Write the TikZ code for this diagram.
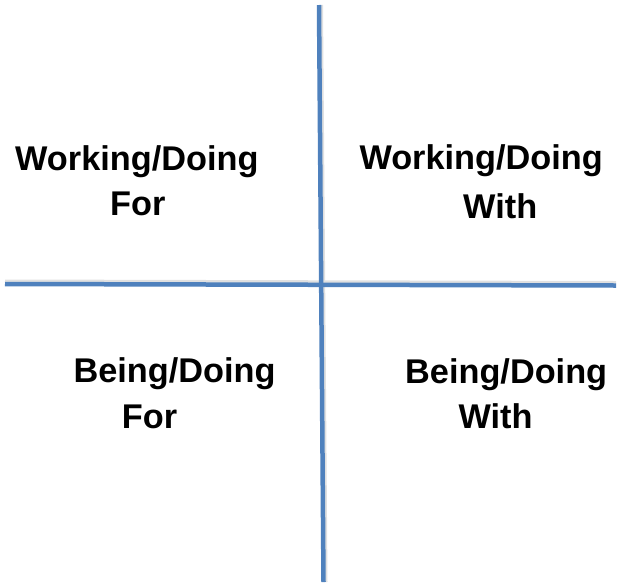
\documentclass[tikz,border=0pt]{standalone}
\usepackage{fontspec}
\setmainfont{Liberation Sans}
\definecolor{axisblue}{HTML}{4F81BD}
\begin{document}
\begin{tikzpicture}[x=1pt,y=-1pt,
  lbl/.style={anchor=base west,inner sep=0pt,font=\bfseries\fontsize{34.3}{40}\selectfont},
  axis/.style={draw=axisblue,line width=4.5pt}]
\useasboundingbox (0,0) rectangle (621,587);
% axes
\coordinate (vt) at (319,5);
\coordinate (vb) at (323.5,582);
\coordinate (hl) at (5,284);
\coordinate (hr) at (616,285.5);
\draw[draw=black!12,line width=3pt] ([yshift=3pt]hl) -- ([yshift=3pt]hr);
\draw[draw=black!12,line width=3pt] ([xshift=2.5pt]vt) -- ([xshift=2.5pt]vb);
\draw[axis] (hl) -- (hr);
\draw[axis] (vt) -- (vb);
% labels
\node[lbl] (tl1) at (15,170) {Working/Doing};
\node[lbl] (tl2) at (110,215) {For};
\node[lbl] (tr1) at (359.3,169) {Working/Doing};
\node[lbl] (tr2) at (463,218) {With};
\node[lbl] (bl1) at (73.3,382.7) {Being/Doing};
\node[lbl] (bl2) at (121.7,428) {For};
\node[lbl] (br1) at (405,383.3) {Being/Doing};
\node[lbl] (br2) at (458.3,428) {With};
\end{tikzpicture}
\end{document}
